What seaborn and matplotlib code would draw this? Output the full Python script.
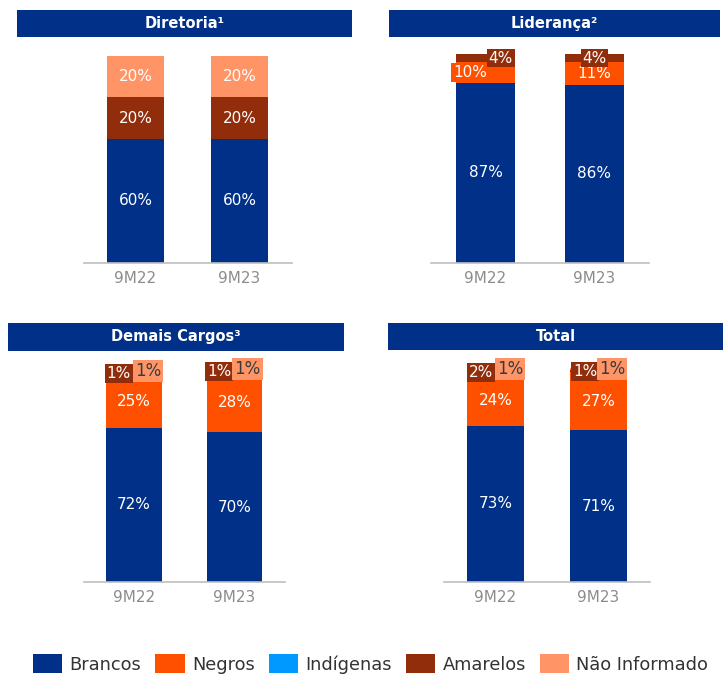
import matplotlib
matplotlib.use("Agg")
import matplotlib.pyplot as plt
from matplotlib.patches import Rectangle, Patch
import pandas as pd
import seaborn as sns

sns.set_theme(style="white")
plt.rcParams["font.family"] = ["DejaVu Sans"]

# ---- data -----------------------------------------------------------------
periods = ["9M22", "9M23"]
series = ["Brancos", "Negros", "Indígenas", "Amarelos", "Não Informado"]
panel_titles = ["Diretoria¹", "Liderança²", "Demais Cargos³", "Total"]

brancos = [[60, 60], [87, 86], [72, 70], [73, 71]]
negros = [[0, 0], [10, 11], [25, 28], [24, 27]]
indigenas = [[0, 0], [0, 0], [0, 0], [0, 0]]
amarelos = [[20, 20], [4, 4], [1, 1], [2, 1]]
nao_informado = [[20, 20], [0, 0], [1, 1], [1, 1]]

colors = {
    "Brancos": "#003087",
    "Negros": "#FF5000",
    "Indígenas": "#0099FF",
    "Amarelos": "#922D0B",
    "Não Informado": "#FF9466",
}
title_blue = "#003087"

rows = []
for p, title in enumerate(panel_titles):
    for g, period in enumerate(periods):
        cum = 0
        for s, vals in zip(series, [brancos, negros, indigenas, amarelos, nao_informado]):
            v = vals[p][g]
            rows.append(dict(panel=title, periodo=period, serie=s, valor=v,
                             base=cum, topo=cum + v))
            cum += v
df = pd.DataFrame(rows)

# ---- layout (pixels on a 723x675 canvas) ----------------------------------
W, H = 723, 675
# left, right, baseline, pixels per percent
axes_px = [
    (83.5, 291.5, 263, 2.07),
    (431, 649, 263, 2.07),
    (83.75, 284.75, 582, 2.14),
    (444, 650, 582, 2.14),
]
# title banners: x0, x1, y0, y1
banners = [
    (17, 352, 10, 37),
    (389, 720, 10, 37),
    (8, 344, 323, 351),
    (388, 723, 323, 350),
]
YMAX = 105
# horizontal shift of the crowded labels, in bar-slot units
label_shift = {
    ("Liderança²", "9M22", "Negros"): -0.14,
    ("Liderança²", "9M22", "Amarelos"): 0.14,
    ("Demais Cargos³", "9M22", "Amarelos"): -0.15,
    ("Demais Cargos³", "9M22", "Não Informado"): 0.14,
    ("Demais Cargos³", "9M23", "Amarelos"): -0.15,
    ("Demais Cargos³", "9M23", "Não Informado"): 0.13,
    ("Total", "9M22", "Amarelos"): -0.14,
    ("Total", "9M22", "Não Informado"): 0.14,
    ("Total", "9M23", "Amarelos"): -0.13,
    ("Total", "9M23", "Não Informado"): 0.13,
}
boxed = {("Liderança²", "9M22", "Negros")}

fig = plt.figure(figsize=(W / 100, H / 100), dpi=100)

for p, title in enumerate(panel_titles):
    left, right, base, ppp = axes_px[p]
    top = base - YMAX * ppp
    ax = fig.add_axes([left / W, 1 - base / H, (right - left) / W, (base - top) / H])
    sub = df[df.panel == title]

    # stacked bars: draw cumulative heights from the top segment down
    for s in reversed(series):
        part = sub[(sub.serie == s) & (sub.valor > 0)]
        if part.empty:
            continue
        sns.barplot(data=part, x="periodo", y="topo", order=periods,
                    color=colors[s], saturation=1, width=0.55,
                    errorbar=None, linewidth=0, ax=ax)

    ax.set_xlim(-0.5, 1.5)
    ax.set_ylim(0, YMAX)
    ax.set_xlabel("")
    ax.set_ylabel("")
    ax.set_yticks([])
    for side in ["top", "left", "right"]:
        ax.spines[side].set_visible(False)
    ax.spines["bottom"].set_color("#BFBFBF")
    ax.spines["bottom"].set_linewidth(1.2)
    ax.tick_params(axis="x", length=0, pad=6, labelsize=11, labelcolor="#8C8C8C")
    ax.patch.set_alpha(0)

    # value labels
    for _, r in sub[sub.valor > 0].iterrows():
        x = periods.index(r.periodo)
        key = (title, r.periodo, r.serie)
        x += label_shift.get(key, 0)
        y = (r.base + r.topo) / 2
        small = r.valor < 5
        txt_color = "white"
        size = 11
        bbox = None
        if small or key in boxed:
            bbox = dict(boxstyle="square,pad=0.12", facecolor=colors[r.serie],
                        edgecolor="none")
        if small and r.serie == "Não Informado":
            txt_color = "#3A3A3A"
            size = 12
        ax.text(x, y, f"{r.valor}%", ha="center", va="center",
                color=txt_color, fontsize=size, bbox=bbox, clip_on=False,
                zorder=5)

    # title banner
    x0, x1, y0, y1 = banners[p]
    fig.patches.append(Rectangle((x0 / W, 1 - y1 / H), (x1 - x0) / W, (y1 - y0) / H,
                                 transform=fig.transFigure, facecolor=title_blue,
                                 edgecolor="none"))
    fig.text((x0 + x1) / 2 / W, 1 - (y0 + y1) / 2 / H, title, ha="center",
             va="center", color="white", fontsize=10.5, fontweight="bold")

handles = [Patch(facecolor=colors[s], edgecolor="none", label=s) for s in series]
fig.legend(handles=handles, loc="center left", bbox_to_anchor=(33 / W, 1 - 664 / H),
           ncol=5, frameon=False, fontsize=12.8, labelcolor="#333333",
           handlelength=1.65, handleheight=1.25, handletextpad=0.4,
           columnspacing=0.8, borderpad=0, borderaxespad=0)

fig.savefig("out.png", dpi=100)
